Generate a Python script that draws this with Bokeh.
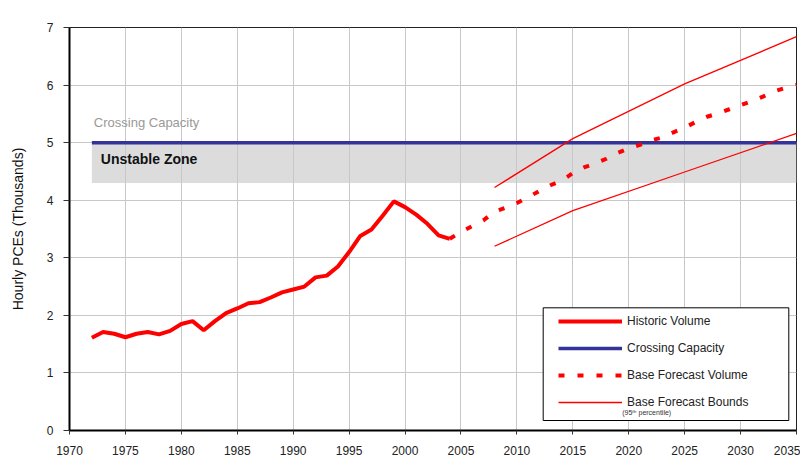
import math
from bokeh.plotting import figure
from bokeh.models import (Legend, LegendItem, Label, BoxAnnotation, Range1d,
                          SingleIntervalTicker)
from bokeh.embed import file_html
from bokeh.resources import INLINE

# ---------------- data ----------------
hist_years = list(range(1972, 2005))
hist_values = [1.61, 1.71, 1.68, 1.62, 1.68, 1.71, 1.67, 1.73, 1.85, 1.90,
               1.74, 1.90, 2.04, 2.12, 2.21, 2.23, 2.31, 2.40, 2.45, 2.50,
               2.66, 2.69, 2.85, 3.10, 3.38, 3.49, 3.73, 3.98, 3.88, 3.75,
               3.59, 3.39, 3.33]

fc_years = list(range(2004, 2036))
fc_values = [3.33, 3.45, 3.55, 3.65, 3.80, 3.87, 3.95, 4.05, 4.16, 4.26,
             4.34, 4.47, 4.57, 4.64, 4.72, 4.82, 4.90, 4.96, 5.04, 5.09,
             5.18, 5.26, 5.36, 5.45, 5.51, 5.58, 5.65, 5.72, 5.80, 5.89,
             5.95, 6.00]

bound_years = [2008, 2015, 2025, 2035]
upper_bound = [4.22, 5.07, 6.02, 6.84]
lower_bound = [3.20, 3.82, 4.49, 5.16]

capacity_years = [1972, 2035]
capacity_value = 5.0
unstable_bottom = 4.3

x_start, x_end = 1970, 2035
y_start, y_end = 0, 7

FONT = "Liberation Sans"
RED = "#FF0000"
BLUE = "#333399"

p = figure(width=800, height=457,
           x_range=Range1d(x_start, x_end), y_range=Range1d(y_start, y_end),
           output_backend="svg", toolbar_location=None,
           min_border_left=69, min_border_right=4,
           min_border_top=27, min_border_bottom=27)

p.background_fill_color = "white"
p.border_fill_color = "white"
p.outline_line_color = "#222222"
p.outline_line_width = 1

# axes
p.xaxis.ticker = SingleIntervalTicker(interval=5)
p.yaxis.ticker = SingleIntervalTicker(interval=1)
for ax in (p.xaxis[0], p.yaxis[0]):
    ax.axis_line_color = "black"
    ax.axis_line_width = 2
    ax.major_tick_line_color = "#333333"
    ax.major_tick_in = 0
    ax.minor_tick_line_color = None
    ax.major_label_text_font = FONT
    ax.major_label_text_font_size = "12px"
    ax.major_label_text_color = "#222222"
p.xaxis.major_tick_out = 4
p.xaxis.major_label_standoff = 11
p.yaxis.major_tick_out = 6
p.yaxis.major_label_standoff = 10

p.yaxis.axis_label = "Hourly PCEs (Thousands)"
p.yaxis.axis_label_text_font = FONT
p.yaxis.axis_label_text_font_size = "14px"
p.yaxis.axis_label_text_font_style = "normal"
p.yaxis.axis_label_text_color = "#111111"
p.yaxis.axis_label_standoff = 18

p.xgrid.grid_line_color = "#C8C8C8"
p.ygrid.grid_line_color = "#C8C8C8"
p.xgrid.grid_line_width = 1
p.ygrid.grid_line_width = 1

# unstable zone (under the grid)
p.quad(left=[capacity_years[0]], right=[capacity_years[1]],
       bottom=[unstable_bottom], top=[capacity_value],
       fill_color="#DCDCDC", line_color=None, level="image")

# lines
cap = p.line(capacity_years, [capacity_value, capacity_value],
             line_color=BLUE, line_width=3.5)
upper = p.line(bound_years, upper_bound, line_color=RED, line_width=1.3)
lower = p.line(bound_years, lower_bound, line_color=RED, line_width=1.3)
fc = p.line(fc_years, fc_values, line_color=RED, line_width=4,
            line_dash="6 13")
hist = p.line(hist_years, hist_values, line_color=RED, line_width=4)

# in-plot texts
p.add_layout(Label(x=capacity_years[0], y=5.35, x_offset=2,
                   text="Crossing Capacity", text_font=FONT,
                   text_font_size="13px", text_color="#999999",
                   text_baseline="middle"))
p.add_layout(Label(x=capacity_years[0], y=4.72, x_offset=9,
                   text="Unstable Zone", text_font=FONT,
                   text_font_size="14px", text_font_style="bold",
                   text_color="#111111", text_baseline="middle"))

# legend box
p.add_layout(BoxAnnotation(left=473.7, right=719.3, top=122.7, bottom=10,
                           left_units="screen", right_units="screen",
                           top_units="screen", bottom_units="screen",
                           fill_color="white", fill_alpha=1.0,
                           line_color="black", line_width=1, line_alpha=1.0))

legend = Legend(items=[
    LegendItem(label="Historic Volume", renderers=[hist]),
    LegendItem(label="Crossing Capacity", renderers=[cap]),
    LegendItem(label="Base Forecast Volume", renderers=[fc]),
    LegendItem(label="Base Forecast Bounds", renderers=[upper]),
], location=(489, 21), padding=0, margin=0, spacing=13,
    glyph_height=14, glyph_width=64, label_height=14, label_standoff=5,
    border_line_color=None, background_fill_alpha=0.0,
    label_text_font=FONT, label_text_font_size="12px",
    label_text_color="#222222")
p.add_layout(legend)

p.add_layout(Label(x=552.7, y=18.3, x_units="screen", y_units="screen",
                   text="(95ᵗʰ percentile)", text_font=FONT,
                   text_font_size="7px", text_color="#333333",
                   text_baseline="middle"))

open("out.html", "w").write(file_html(p, INLINE))
